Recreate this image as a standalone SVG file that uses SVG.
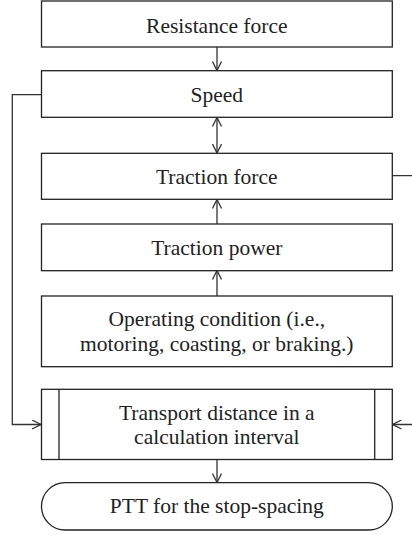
<svg xmlns="http://www.w3.org/2000/svg" width="412" height="535" viewBox="0 0 412 535">
<style>
.box{fill:#fff;stroke:#222;stroke-width:1.3}
.t{font-family:"Liberation Serif","Times New Roman",serif;font-size:21.5px;fill:#222;text-anchor:middle}
.c{fill:none;stroke:#333;stroke-width:1.3}
</style>
<defs>
<marker id="ah" viewBox="0 0 10 10" refX="10" refY="5" markerWidth="10" markerHeight="10" markerUnits="userSpaceOnUse" orient="auto-start-reverse">
<path d="M1,0.5 L10,5 L1,9.5" fill="none" stroke="#333" stroke-width="1.3"/>
</marker>
</defs>
<rect width="412" height="535" fill="#fff"/>
<g id="connectors">
<line class="c" x1="217" y1="47" x2="217" y2="70.5" marker-end="url(#ah)"/>
<line class="c" x1="217" y1="117.5" x2="217" y2="153" marker-start="url(#ah)" marker-end="url(#ah)"/>
<line class="c" x1="217" y1="224" x2="217" y2="199.5" marker-end="url(#ah)"/>
<line class="c" x1="217" y1="296" x2="217" y2="270.5" marker-end="url(#ah)"/>
<line class="c" x1="217" y1="459.5" x2="217" y2="482.5" marker-end="url(#ah)"/>
<polyline class="c" points="41.5,94.7 12.3,94.7 12.3,424.5 41,424.5" marker-end="url(#ah)"/>
<polyline class="c" points="392.3,175.7 413,175.7 413,424.5 392.5,424.5" marker-end="url(#ah)"/>
</g>
<g id="resistance">
<rect class="box" x="41.5" y="1" width="350.8" height="46"/>
<text class="t" x="216.8" y="32.5">Resistance force</text>
</g>
<g id="speed">
<rect class="box" x="41.5" y="70.7" width="350.8" height="46.6"/>
<text class="t" x="216.8" y="101.5">Speed</text>
</g>
<g id="traction-force">
<rect class="box" x="41.5" y="153.3" width="350.8" height="46"/>
<text class="t" x="216.8" y="184">Traction force</text>
</g>
<g id="traction-power">
<rect class="box" x="41.5" y="224" width="350.8" height="46.7"/>
<text class="t" x="216.8" y="255">Traction power</text>
</g>
<g id="operating">
<rect class="box" x="41.5" y="296" width="350.8" height="70.7"/>
<text class="t" x="216.8" y="326">Operating condition (i.e.,</text>
<text class="t" x="216.8" y="350.7">motoring, coasting, or braking.)</text>
</g>
<g id="transport">
<rect class="box" x="41.5" y="389.3" width="350.8" height="70.2"/>
<line class="box" x1="59" y1="389.3" x2="59" y2="459.5"/>
<line class="box" x1="374.7" y1="389.3" x2="374.7" y2="459.5"/>
<text class="t" x="216.8" y="420">Transport distance in a</text>
<text class="t" x="216.8" y="443.5">calculation interval</text>
</g>
<g id="ptt">
<rect class="box" x="41.5" y="482.7" width="350.8" height="47.3" rx="23.6" ry="23.6"/>
<text class="t" x="216.8" y="513">PTT for the stop-spacing</text>
</g>
</svg>
